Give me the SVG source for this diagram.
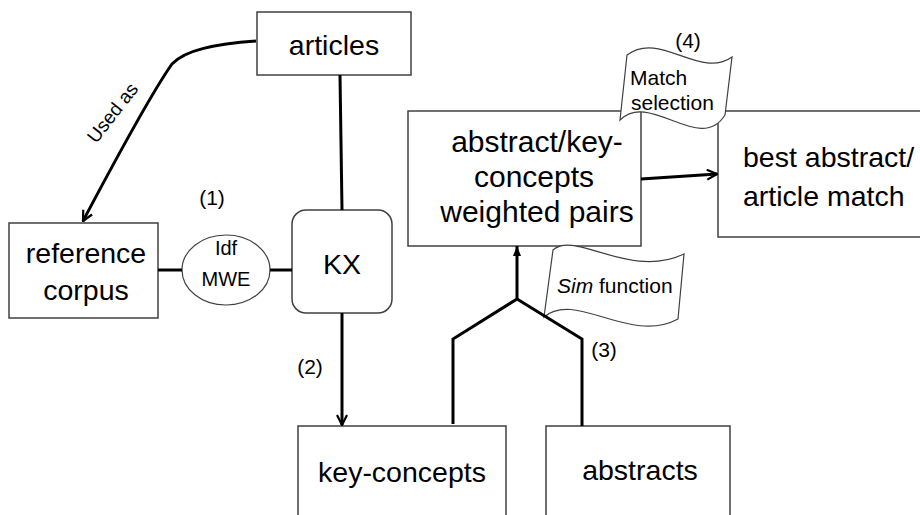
<svg xmlns="http://www.w3.org/2000/svg" width="920" height="515" viewBox="0 0 920 515">
<defs>
<style>
.box{fill:#fff;stroke:#404040;stroke-width:1.5}
.big{font-family:"Liberation Sans",Arial,sans-serif;font-size:28.5px;fill:#000;text-anchor:middle}
.sm{font-family:"Liberation Sans",Arial,sans-serif;font-size:21px;fill:#000}
.con{fill:none;stroke:#000;stroke-width:3}
.flag{fill:#fff;stroke:#404040;stroke-width:1.2}
</style>
<marker id="open" viewBox="0 0 12 12" refX="11" refY="6" markerWidth="12" markerHeight="12" markerUnits="userSpaceOnUse" orient="auto">
<path d="M1,1 L11,6 L1,11" fill="none" stroke="#000" stroke-width="2.2"/>
</marker>
<marker id="tri" viewBox="0 0 10 8" refX="10" refY="4" markerWidth="11" markerHeight="8" markerUnits="userSpaceOnUse" orient="auto">
<path d="M0,0 L10,4 L0,8 Z" fill="#000"/>
</marker>
</defs>
<rect width="920" height="515" fill="#fff"/>

<g id="articles">
<rect class="box" x="257" y="12" width="154" height="63"/>
<text class="big" x="334" y="55">articles</text>
</g>
<g id="reference-corpus">
<rect class="box" x="9" y="223" width="149" height="95"/>
<text class="big" x="86" y="263">reference</text>
<text class="big" x="86" y="300">corpus</text>
</g>
<g id="idf-mwe">
<ellipse class="box" cx="226" cy="270" rx="44" ry="35" style="stroke-width:1.2"/>
<text class="sm" x="226" y="255" style="text-anchor:middle;font-size:20px">Idf</text>
<text class="sm" x="226" y="286" style="text-anchor:middle;font-size:20px">MWE</text>
</g>
<g id="kx">
<rect class="box" x="292" y="210" width="100" height="103" rx="14"/>
<text class="big" x="342" y="274">KX</text>
</g>
<g id="key-concepts">
<rect class="box" x="298" y="426" width="208" height="100"/>
<text class="big" x="402" y="482">key-concepts</text>
</g>
<g id="abstracts">
<rect class="box" x="546" y="426" width="184" height="100"/>
<text class="big" x="640" y="480">abstracts</text>
</g>
<g id="weighted-pairs">
<rect class="box" x="408" y="111" width="233" height="135"/>
<text class="big" x="537" y="152" style="font-size:30px">abstract/key-</text>
<text class="big" x="534" y="187" style="font-size:30px">concepts</text>
<text class="big" x="537" y="222" style="font-size:30px">weighted pairs</text>
</g>
<g id="best-match">
<rect class="box" x="718" y="111" width="220" height="126"/>
<text class="big" x="743" y="167" style="text-anchor:start">best abstract/</text>
<text class="big" x="743" y="206" style="text-anchor:start">article match</text>
</g>

<g id="match-selection">
<path class="flag" d="M627,55 C660,30 700,80 732,57 L725,115 C700,155 650,90 620,120 Z"/>
<text class="sm" x="688" y="48" style="text-anchor:middle">(4)</text>
<text class="sm" x="630" y="85">Match</text>
<text class="sm" x="631" y="110">selection</text>
</g>
<g id="sim-function">
<path class="flag" d="M553,250 C575,230 630,280 684,254 L678,319 C630,345 575,290 544,317 Z"/>
<text class="sm" x="557" y="293"><tspan style="font-style:italic">Sim</tspan> function</text>
</g>

<g id="labels">
<text class="sm" x="212" y="205" style="text-anchor:middle">(1)</text>
<text class="sm" x="310" y="374" style="text-anchor:middle">(2)</text>
<text class="sm" x="604" y="357" style="text-anchor:middle">(3)</text>
<text class="sm" x="113" y="119" style="text-anchor:middle;font-size:19px" transform="rotate(-52 113 113)">Used as</text>
</g>

<g id="connectors">
<path class="con" d="M256,41 C215,44 185,50 172,64 C150,95 110,170 83,221" marker-end="url(#open)"/>
<line class="con" x1="340" y1="75" x2="342" y2="210"/>
<line class="con" x1="158" y1="270" x2="182" y2="270"/>
<line class="con" x1="270" y1="270" x2="292" y2="270"/>
<line class="con" x1="342" y1="313" x2="342" y2="425" marker-end="url(#open)"/>
<polyline class="con" points="453,424 453,339 517,299 582,339 582,426"/>
<line class="con" x1="517" y1="299" x2="517" y2="246" marker-end="url(#tri)"/>
<line class="con" x1="641" y1="179" x2="717" y2="174" marker-end="url(#open)"/>
</g>
</svg>
